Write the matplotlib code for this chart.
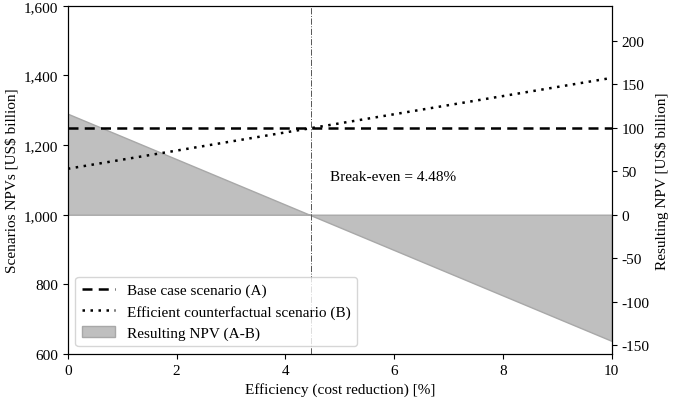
import matplotlib
matplotlib.use("Agg")
import matplotlib.pyplot as plt
from matplotlib.ticker import FuncFormatter

plt.rcParams['font.family'] = ['Liberation Serif', 'DejaVu Serif']
plt.rcParams['font.size'] = 11
plt.rcParams['axes.unicode_minus'] = False

# efficiency (cost reduction) [%]
efficiency = [0, 10]
# scenario NPVs [US$ billion]
base_case = [1248, 1248]
efficient = [1132, 1393]
# resulting NPV (A-B) [US$ billion]
resulting_npv = [116, -145]
break_even = 4.48

fig = plt.figure(figsize=(6.85, 4.02), dpi=100)
ax = fig.add_axes([0.099, 0.117, 0.794, 0.866])
ax2 = ax.twinx()

ax2.fill_between(efficiency, 0, resulting_npv, facecolor='#bfbfbf',
                 edgecolor='#a8a8a8', linewidth=1, label='Resulting NPV (A-B)')
ax2.set_ylim(-160, 240)
ax2.set_yticks([-150, -100, -50, 0, 50, 100, 150, 200])
ax2.set_ylabel('Resulting NPV [US$ billion]')

l1, = ax.plot(efficiency, base_case, color='black', linestyle=(0, (4, 2.5)),
              linewidth=1.8, label='Base case scenario (A)')
l2, = ax.plot(efficiency, efficient, color='black', linestyle=(0, (1, 2.2)),
              linewidth=1.8, label='Efficient counterfactual scenario (B)')
ax.axvline(break_even, color='#555555', linestyle='-.', linewidth=0.7)
ax.text(4.82, 1109, 'Break-even = 4.48%', va='center', ha='left')

ax.set_zorder(ax2.get_zorder() + 1)
ax.patch.set_visible(False)

ax.set_xlim(0, 10)
ax.set_ylim(600, 1600)
ax.set_xticks([0, 2, 4, 6, 8, 10])
ax.set_yticks([600, 800, 1000, 1200, 1400, 1600])
ax.yaxis.set_major_formatter(FuncFormatter(lambda v, p: f'{v:,.0f}'))
ax.set_xlabel('Efficiency (cost reduction) [%]')
ax.set_ylabel('Scenarios NPVs [US$ billion]')

handles = [l1, l2] + ax2.get_legend_handles_labels()[0]
ax.legend(handles=handles, loc='lower left', fontsize=11, handlelength=2.2)

plt.savefig('out.png', dpi=100)
